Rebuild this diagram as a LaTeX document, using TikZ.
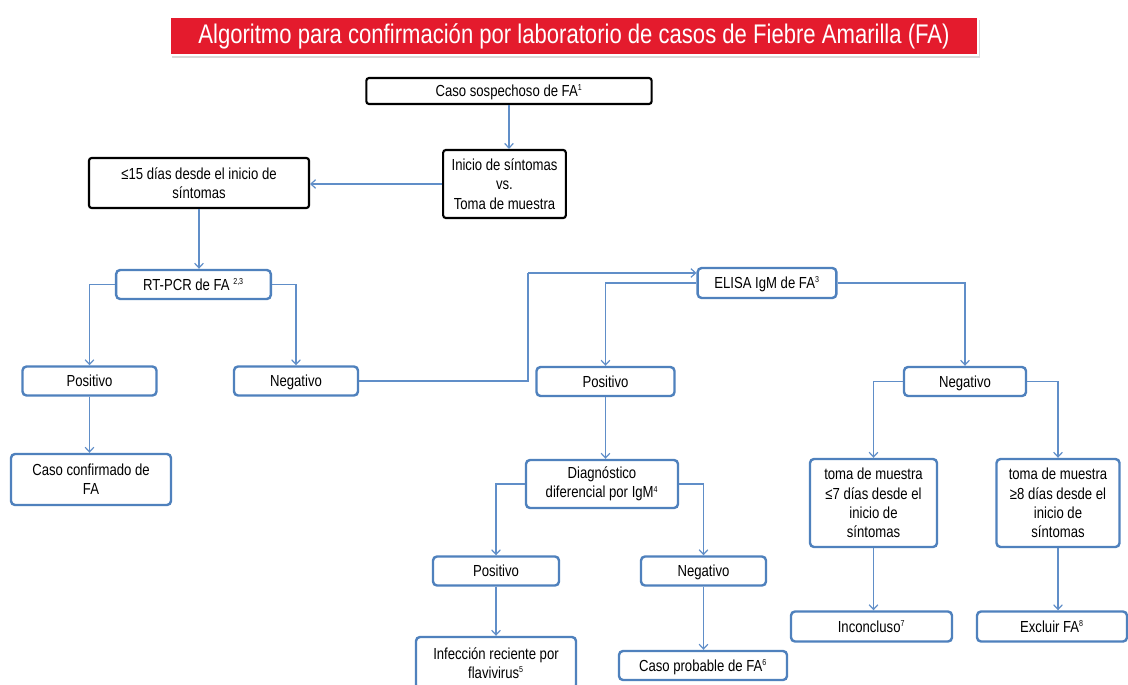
\documentclass[tikz,border=0pt]{standalone}
\usepackage{fontspec}
\setmainfont{Liberation Sans}[FakeStretch=0.82]
\usetikzlibrary{arrows.meta,shadows}
\definecolor{titlered}{RGB}{228,27,45}
\definecolor{boxblue}{RGB}{79,129,189}
\definecolor{lineblue}{RGB}{96,142,200}
\newcommand{\fnote}[1]{\textsuperscript{\fontsize{6.5}{7}\selectfont #1}}
\tikzset{
  blackbox/.style={draw=black, line width=1.6pt, rounded corners=2pt, fill=white, align=center,
    inner sep=1pt, font=\fontsize{12}{14.4}\selectfont},
  bluebox/.style={draw=boxblue, line width=1.8pt, rounded corners=3pt, fill=white, align=center,
    inner sep=1pt, font=\fontsize{12}{14.4}\selectfont},
  oneline/.style={text height=10.5pt, text depth=2pt},
  link/.style={draw=lineblue, line width=0.9pt, -{Straight Barb[length=3.5pt,width=6.5pt]}},
  plainlink/.style={draw=lineblue, line width=0.9pt}
}
\begin{document}
\begin{tikzpicture}[x=0.75pt, y=-0.75pt]
	\useasboundingbox (0,0) rectangle (1128,685);
	\fill[white] (0,0) rectangle (1128,685);

	\node[fill=titlered, draw=white, line width=1.2pt, minimum width=606pt, minimum height=28.5pt,
	  drop shadow={shadow xshift=1.5pt, shadow yshift=-2pt, fill=black!30}, text=white,
	  font=\fontsize{20.2}{22}\selectfont] (title) at (574,36)
	  {Algoritmo para confirmación por laboratorio de casos de Fiebre Amarilla (FA)};

	% upper part
	\node[blackbox, oneline, minimum width=214pt, minimum height=19.5pt] (susp) at (509,91) {Caso sospechoso de FA\fnote{1}};
	\node[blackbox, minimum width=92pt, minimum height=51pt] (onset) at (504.5,184) {Inicio de síntomas\\vs.\\Toma de muestra};
	\node[blackbox, minimum width=165pt, minimum height=37.5pt] (le15) at (199,183) {≤15 días desde el inicio de\\síntomas};

	% RT-PCR branch
	\node[bluebox, oneline, minimum width=116pt, minimum height=21.75pt] (pcr) at (193.5,284.5) {RT-PCR de FA \fnote{2,3}};
	\node[bluebox, oneline, minimum width=100.5pt, minimum height=21.75pt] (posA) at (89.5,381) {Positivo};
	\node[bluebox, oneline, minimum width=93pt, minimum height=21.75pt] (negA) at (296,381) {Negativo};
	\node[bluebox, minimum width=120pt, minimum height=38.25pt] (conf) at (91,479.5) {Caso confirmado de\\FA};

	% ELISA branch
	\node[bluebox, oneline, minimum width=104pt, minimum height=22.5pt] (elisa) at (767,283) {ELISA IgM de FA\fnote{3}};
	\node[bluebox, oneline, minimum width=103.5pt, minimum height=21.75pt] (posB) at (605.5,381.5) {Positivo};
	\node[bluebox, oneline, minimum width=91.5pt, minimum height=21.75pt] (negB) at (965,381.5) {Negativo};
	\node[bluebox, minimum width=114pt, minimum height=36pt] (diag) at (602,484) {Diagnóstico\\diferencial por IgM\fnote{4}};
	\node[bluebox, oneline, minimum width=94.5pt, minimum height=21.75pt] (posC) at (496,571) {Positivo};
	\node[bluebox, oneline, minimum width=93.75pt, minimum height=21.75pt] (negC) at (703.5,571) {Negativo};
	\node[bluebox, minimum width=120pt, minimum height=39pt] (flav) at (496,663) {Infección reciente por\\flavivirus\fnote{5}};
	\node[bluebox, oneline, minimum width=126pt, minimum height=21.75pt] (prob) at (703,665.5) {Caso probable de FA\fnote{6}};
	\node[bluebox, minimum width=95.25pt, minimum height=66pt] (le7) at (873.5,503) {toma de muestra\\≤7 días desde el\\inicio de\\síntomas};
	\node[bluebox, minimum width=92.25pt, minimum height=66pt] (ge8) at (1058,503) {toma de muestra\\≥8 días desde el\\inicio de\\síntomas};
	\node[bluebox, oneline, minimum width=120.75pt, minimum height=22.5pt] (inc) at (871.5,626.5) {Inconcluso\fnote{7}};
	\node[bluebox, oneline, minimum width=112.5pt, minimum height=22.5pt] (excl) at (1052,626.5) {Excluir FA\fnote{8}};

	\coordinate (jog) at (528,273);%turn of the Negativo line

	% connectors
	\draw[link] (susp.south) -- (susp.south |- onset.north);
	\draw[link] (onset.west) -- (le15.east |- onset.west);
	\draw[link] (le15.south) -- (le15.south |- pcr.north);
	\draw[link] (pcr.west) -| (posA.north);
	\draw[link] (pcr.east) -| (negA.north);
	\draw[link] (posA.south) -- (posA.south |- conf.north);
	\draw[plainlink] (negA.east) -| (jog);
	\draw[link] (jog) -- (elisa.west |- jog);
	\draw[link] (elisa.west) -| (posB.north);
	\draw[link] (elisa.east) -| (negB.north);
	\draw[link] (posB.south) -- (posB.south |- diag.north);
	\draw[link] (negB.west) -| (le7.north);
	\draw[link] (negB.east) -| (ge8.north);
	\draw[link] (le7.south) -- (le7.south |- inc.north);
	\draw[link] (ge8.south) -- (ge8.south |- excl.north);
	\draw[link] (diag.west) -| (posC.north);
	\draw[link] (diag.east) -| (negC.north);
	\draw[link] (posC.south) -- (posC.south |- flav.north);
	\draw[link] (negC.south) -- (negC.south |- prob.north);
\end{tikzpicture}
\end{document}
